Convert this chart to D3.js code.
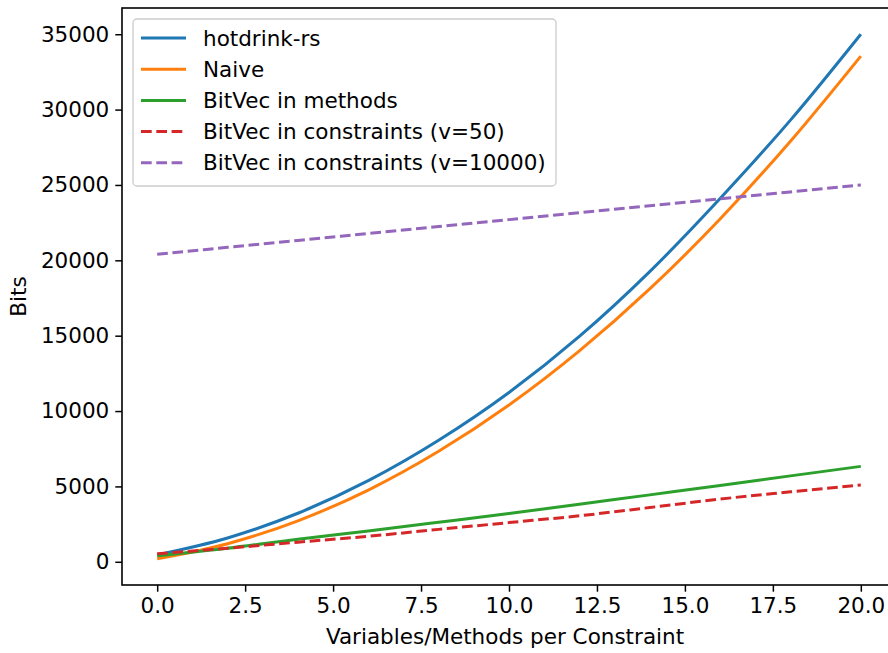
<!DOCTYPE html>
<html lang="en">
<head>
<meta charset="utf-8">
<script src="https://d3js.org/d3.v7.min.js"></script>
<style>
  body { margin: 0; background: #fff; }
  svg { display: block; font-family: "DejaVu Sans", sans-serif; }
</style>
</head>
<body>
<div id="chart"></div>
<script>
    // values, x = 0, 2, ..., 20
    var xs = [0, 2, 4, 6, 8, 10, 12, 14, 16, 18, 20];
    var hotdrink = [460, 1580, 3220, 5380, 8060, 11230, 14950, 19250, 24100, 29300, 35000];
    var naive = [200, 1200, 2720, 4760, 7330, 10400, 13990, 18100, 22740, 27900, 33550];
    var bitvecMethods = [400, 900, 1500, 2050, 2620, 3200, 3820, 4440, 5060, 5700, 6330];
    var bitvec50 = [530, 900, 1300, 1690, 2150, 2600, 3050, 3600, 4160, 4640, 5100];
    var bitvec10000 = [20400, 20860, 21320, 21780, 22240, 22700, 23160, 23620, 24080, 24540, 25000];

    var seriesNames = ["hotdrink-rs", "Naive", "BitVec in methods",
                       "BitVec in constraints (v=50)", "BitVec in constraints (v=10000)"];
    var seriesValues = [hotdrink, naive, bitvecMethods, bitvec50, bitvec10000];
    var colors = ["#1f77b4", "#ff7f0e", "#2ca02c", "#d62728", "#9467bd"];
    var dashed = [false, false, false, true, true];

    var xTicks = [0, 2.5, 5, 7.5, 10, 12.5, 15, 17.5, 20];
    var yTicks = [0, 5000, 10000, 15000, 20000, 25000, 30000, 35000];

    var W = 888, H = 653;
    var margin = {top: 8, right: -8, bottom: 68, left: 122};
    var width = W - margin.left - margin.right,
        height = H - margin.top - margin.bottom;
    var fs = 21.5;

    var svg = d3.select("#chart").append("svg")
        .attr("width", W).attr("height", H)
      .append("g")
        .attr("transform", "translate(" + margin.left + "," + margin.top + ")");

    // matplotlib style 5% margins
    var allY = d3.merge(seriesValues);
    var yMin = d3.min(allY), yMax = d3.max(allY), pad = (yMax - yMin) * 0.05;
    var x = d3.scaleLinear().domain([-1, 21]).range([0, width]);
    var y = d3.scaleLinear().domain([yMin - pad, yMax + pad]).range([height, 0]);

    var xAxis = svg.append("g")
        .attr("transform", "translate(0," + height + ")")
        .call(d3.axisBottom(x).tickValues(xTicks).tickFormat(d3.format(".1f"))
              .tickSizeOuter(0).tickSize(6.7).tickPadding(6));
    var yAxis = svg.append("g")
        .call(d3.axisLeft(y).tickValues(yTicks).tickFormat(d3.format("d"))
              .tickSizeOuter(0).tickSize(6.7).tickPadding(6));
    [xAxis, yAxis].forEach(function(a) {
        a.selectAll("text").attr("font-size", fs).attr("fill", "#000")
         .attr("font-family", "DejaVu Sans");
        a.selectAll("line").attr("stroke", "#000").attr("stroke-width", 1.5);
        a.select(".domain").remove();
    });

    // spines
    svg.append("rect")
        .attr("x", 0).attr("y", 0).attr("width", width).attr("height", height)
        .attr("fill", "none").attr("stroke", "#000").attr("stroke-width", 1.6);

    var line = d3.line()
        .x(function(d, i) { return x(xs[i]); })
        .y(function(d) { return y(d); })
        .curve(d3.curveMonotoneX);

    seriesValues.forEach(function(vals, i) {
        svg.append("path")
            .datum(vals)
            .attr("d", line)
            .attr("fill", "none")
            .attr("stroke", colors[i])
            .attr("stroke-width", 3)
            .attr("stroke-dasharray", dashed[i] ? "10.7,4.6" : null);
    });

    svg.append("text")
        .attr("x", width / 2 - 4).attr("y", height + 59)
        .attr("text-anchor", "middle").attr("font-size", fs)
        .text("Variables/Methods per Constraint");

    svg.append("text")
        .attr("transform", "rotate(-90)")
        .attr("x", -(height / 2)).attr("y", -96)
        .attr("text-anchor", "middle").attr("font-size", fs)
        .text("Bits");

    // legend
    var lg = svg.append("g").attr("transform", "translate(11,11)");
    lg.append("rect")
        .attr("width", 423).attr("height", 167).attr("rx", 4)
        .attr("fill", "#fff").attr("fill-opacity", 0.8)
        .attr("stroke", "#ccc").attr("stroke-width", 1.3);
    seriesNames.forEach(function(name, i) {
        var cy = 19 + i * 31.2;
        lg.append("line")
            .attr("x1", 8).attr("x2", 53).attr("y1", cy).attr("y2", cy)
            .attr("stroke", colors[i]).attr("stroke-width", 3)
            .attr("stroke-dasharray", dashed[i] ? "10.7,4.6" : null);
        lg.append("text")
            .attr("x", 70).attr("y", cy).attr("dy", "0.35em")
            .attr("font-size", fs)
            .text(name);
    });
</script>
</body>
</html>
